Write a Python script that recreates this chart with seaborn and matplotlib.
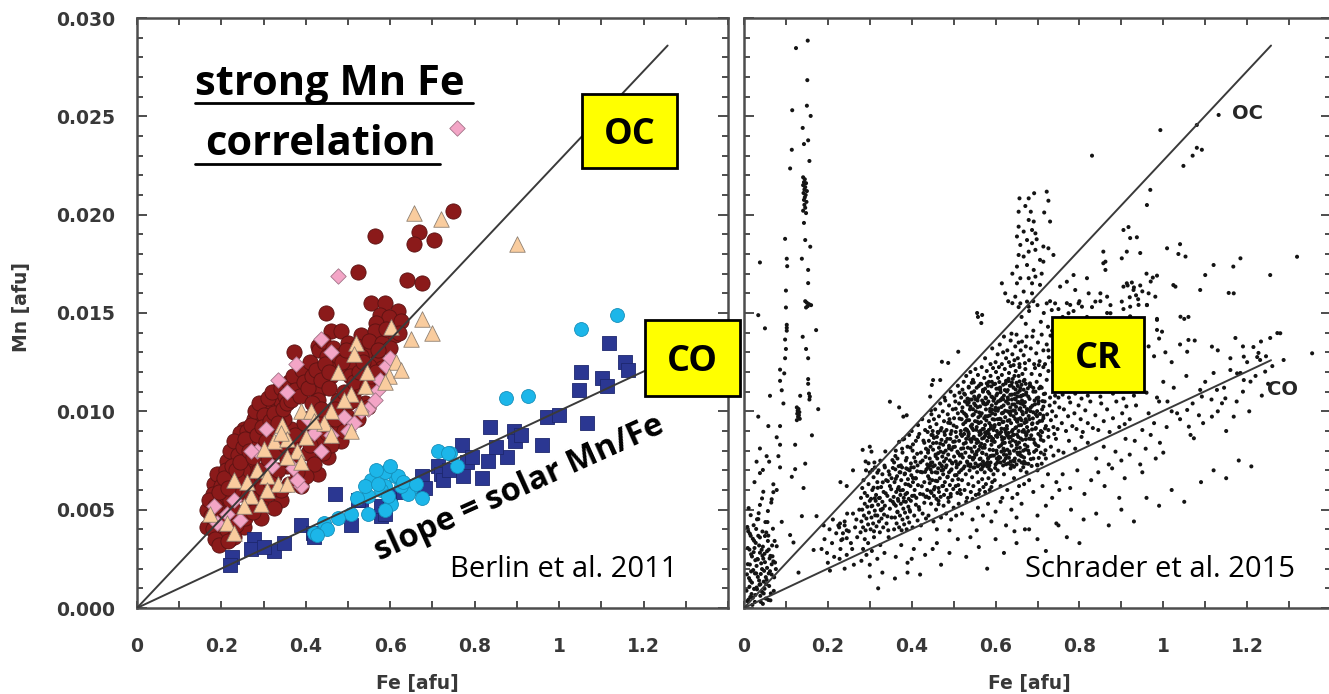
import numpy as np
import matplotlib
matplotlib.use("Agg")
import matplotlib.pyplot as plt
from matplotlib.patches import Rectangle
from matplotlib.lines import Line2D
from matplotlib.ticker import MultipleLocator
import seaborn as sns

# ------------------------------------------------------------------
# Left panel (Berlin et al. 2011): Fe and Mn in atoms per formula unit
# ------------------------------------------------------------------
oc_circles = [
    (0.749, 0.0202), (0.563, 0.0189), (0.667, 0.0191), (0.656, 0.0185), (0.704, 0.0187), (0.523, 0.0171),
    (0.640, 0.0167), (0.674, 0.0165), (0.555, 0.0155), (0.587, 0.0155), (0.618, 0.0151), (0.575, 0.0149),
    (0.598, 0.0148), (0.626, 0.0146), (0.448, 0.0150), (0.567, 0.0145), (0.460, 0.0141), (0.483, 0.0141),
    (0.428, 0.0133), (0.531, 0.0139), (0.563, 0.0141), (0.499, 0.0135), (0.547, 0.0131), (0.610, 0.0139),
    (0.372, 0.0130), (0.460, 0.0130), (0.507, 0.0128), (0.570, 0.0126), (0.364, 0.0114), (0.388, 0.0112),
    (0.428, 0.0110), (0.460, 0.0118), (0.539, 0.0118), (0.333, 0.0111), (0.428, 0.0106), (0.475, 0.0106),
    (0.499, 0.0104), (0.539, 0.0104), (0.333, 0.0104), (0.309, 0.0101), (0.285, 0.0097), (0.301, 0.0094),
    (0.253, 0.0091), (0.277, 0.0087), (0.364, 0.0091), (0.460, 0.0097), (0.499, 0.0097), (0.412, 0.0091),
    (0.475, 0.0091), (0.166, 0.0050), (0.182, 0.0063), (0.213, 0.0075), (0.221, 0.0035), (0.198, 0.0038),
    (0.166, 0.0041), (0.245, 0.0089), (0.277, 0.0096), (0.309, 0.0102), (0.340, 0.0055), (0.325, 0.0051),
    (0.293, 0.0055), (0.388, 0.0062), (0.452, 0.0077), (0.483, 0.0085), (0.523, 0.0096), (0.547, 0.0102),
    (0.428, 0.0068), (0.245, 0.0058), (0.229, 0.0050), (0.198, 0.0046), (0.190, 0.0055), (0.229, 0.0067),
    (0.261, 0.0075), (0.277, 0.0084), (0.309, 0.0090), (0.348, 0.0096), (0.372, 0.0084), (0.356, 0.0072),
    (0.325, 0.0067), (0.293, 0.0046), (0.253, 0.0041), (0.229, 0.0041), (0.182, 0.0045), (0.468, 0.0096),
    (0.436, 0.0085), (0.404, 0.0079), (0.412, 0.0097), (0.515, 0.0106), (0.180, 0.0058), (0.190, 0.0068),
    (0.200, 0.0062), (0.210, 0.0070), (0.200, 0.0052), (0.220, 0.0080), (0.230, 0.0085), (0.240, 0.0078),
    (0.250, 0.0082), (0.260, 0.0090), (0.270, 0.0093), (0.280, 0.0100), (0.290, 0.0104), (0.300, 0.0098),
    (0.310, 0.0107), (0.320, 0.0110), (0.340, 0.0112), (0.350, 0.0108), (0.360, 0.0115), (0.370, 0.0118),
    (0.390, 0.0121), (0.410, 0.0125), (0.430, 0.0131), (0.440, 0.0136), (0.450, 0.0128), (0.470, 0.0124),
    (0.490, 0.0120), (0.510, 0.0124), (0.520, 0.0133), (0.530, 0.0128), (0.550, 0.0136), (0.580, 0.0135),
    (0.590, 0.0142), (0.600, 0.0132), (0.620, 0.0140), (0.580, 0.0122), (0.560, 0.0114), (0.520, 0.0112),
    (0.500, 0.0110), (0.490, 0.0090), (0.460, 0.0083), (0.440, 0.0079), (0.420, 0.0073), (0.400, 0.0067),
    (0.380, 0.0069), (0.360, 0.0063), (0.340, 0.0060), (0.310, 0.0058), (0.300, 0.0063), (0.280, 0.0062),
    (0.270, 0.0068), (0.260, 0.0064), (0.250, 0.0070), (0.240, 0.0065), (0.230, 0.0060), (0.220, 0.0055),
    (0.210, 0.0047), (0.200, 0.0042), (0.240, 0.0045), (0.260, 0.0050), (0.270, 0.0056), (0.290, 0.0070),
    (0.310, 0.0076), (0.330, 0.0080), (0.350, 0.0083), (0.370, 0.0078), (0.390, 0.0088), (0.410, 0.0083),
    (0.430, 0.0095), (0.450, 0.0089), (0.470, 0.0101), (0.490, 0.0110), (0.530, 0.0113), (0.550, 0.0123),
    (0.570, 0.0131), (0.210, 0.0038), (0.230, 0.0036), (0.190, 0.0050), (0.170, 0.0055), (0.180, 0.0040),
    (0.175, 0.0047), (0.185, 0.0052), (0.195, 0.0059), (0.205, 0.0066), (0.215, 0.0061), (0.225, 0.0072),
    (0.235, 0.0070), (0.245, 0.0074), (0.255, 0.0086), (0.265, 0.0080), (0.275, 0.0077), (0.285, 0.0088),
    (0.295, 0.0092), (0.305, 0.0085), (0.315, 0.0095), (0.325, 0.0099), (0.335, 0.0094), (0.345, 0.0101),
    (0.355, 0.0104), (0.365, 0.0106), (0.375, 0.0111), (0.385, 0.0108), (0.395, 0.0115), (0.405, 0.0112),
    (0.415, 0.0118), (0.425, 0.0121), (0.435, 0.0116), (0.445, 0.0124), (0.455, 0.0120), (0.465, 0.0132),
    (0.475, 0.0128), (0.485, 0.0125), (0.495, 0.0131), (0.505, 0.0118), (0.515, 0.0115), (0.525, 0.0120),
    (0.535, 0.0125), (0.545, 0.0113), (0.555, 0.0118), (0.565, 0.0120), (0.185, 0.0035), (0.195, 0.0032),
    (0.215, 0.0034), (0.235, 0.0042), (0.255, 0.0046), (0.275, 0.0049), (0.295, 0.0061), (0.315, 0.0064),
    (0.335, 0.0070), (0.355, 0.0076), (0.375, 0.0088), (0.395, 0.0094), (0.415, 0.0104), (0.435, 0.0101),
    (0.455, 0.0112),
]

oc_triangles = [
    (0.656, 0.0201), (0.720, 0.0198), (0.900, 0.0185), (0.674, 0.0147), (0.698, 0.0140), (0.650, 0.0137),
    (0.602, 0.0143), (0.519, 0.0135), (0.515, 0.0129), (0.614, 0.0125), (0.598, 0.0118), (0.587, 0.0115),
    (0.475, 0.0120), (0.539, 0.0113), (0.507, 0.0109), (0.491, 0.0106), (0.531, 0.0102), (0.388, 0.0100),
    (0.412, 0.0100), (0.460, 0.0100), (0.444, 0.0094), (0.344, 0.0093), (0.507, 0.0090), (0.325, 0.0085),
    (0.356, 0.0086), (0.380, 0.0080), (0.356, 0.0077), (0.388, 0.0074), (0.285, 0.0070), (0.229, 0.0065),
    (0.309, 0.0067), (0.333, 0.0063), (0.356, 0.0063), (0.269, 0.0057), (0.293, 0.0053), (0.253, 0.0052),
    (0.174, 0.0048), (0.213, 0.0043), (0.229, 0.0038), (0.261, 0.0064), (0.309, 0.0060), (0.340, 0.0089),
    (0.300, 0.0081), (0.420, 0.0095), (0.460, 0.0088), (0.625, 0.0121), (0.545, 0.0120), (0.400, 0.0087),
]

oc_diamonds = [
    (0.757, 0.0244), (0.477, 0.0169), (0.436, 0.0137), (0.460, 0.0130), (0.376, 0.0124), (0.333, 0.0116),
    (0.356, 0.0110), (0.305, 0.0091), (0.404, 0.0096), (0.491, 0.0097), (0.460, 0.0088), (0.570, 0.0111),
    (0.575, 0.0116), (0.563, 0.0106), (0.547, 0.0101), (0.531, 0.0100), (0.590, 0.0123), (0.285, 0.0080),
    (0.229, 0.0055), (0.245, 0.0045), (0.182, 0.0052), (0.213, 0.0048), (0.436, 0.0080), (0.388, 0.0062),
    (0.515, 0.0094), (0.370, 0.0071), (0.420, 0.0089), (0.600, 0.0127), (0.500, 0.0090), (0.269, 0.0080),
    (0.320, 0.0072), (0.380, 0.0065), (0.190, 0.0043),
]

co_squares = [
    (0.225, 0.0026), (0.221, 0.0022), (0.277, 0.0035), (0.269, 0.0030), (0.325, 0.0029), (0.348, 0.0033),
    (0.388, 0.0042), (0.416, 0.0038), (0.420, 0.0036), (0.468, 0.0058), (0.507, 0.0042), (0.531, 0.0055),
    (0.523, 0.0055), (0.579, 0.0047), (0.579, 0.0052), (0.587, 0.0048), (0.642, 0.0062), (0.667, 0.0062),
    (0.674, 0.0067), (0.682, 0.0061), (0.714, 0.0072), (0.721, 0.0068), (0.725, 0.0065), (0.773, 0.0067),
    (0.781, 0.0074), (0.817, 0.0066), (0.769, 0.0083), (0.793, 0.0077), (0.832, 0.0075), (0.876, 0.0077),
    (0.837, 0.0092), (0.892, 0.0090), (0.896, 0.0085), (0.960, 0.0083), (0.971, 0.0097), (0.999, 0.0098),
    (1.067, 0.0094), (1.046, 0.0111), (1.051, 0.0120), (1.102, 0.0117), (1.114, 0.0113), (1.118, 0.0135),
    (1.156, 0.0125), (1.162, 0.0121), (0.600, 0.0057), (0.630, 0.0059), (0.740, 0.0070), (0.850, 0.0082),
    (0.910, 0.0088), (0.300, 0.0031),
]

co_circles = [
    (1.051, 0.0142), (1.138, 0.0149), (0.873, 0.0107), (0.927, 0.0108), (0.714, 0.0080), (0.742, 0.0079),
    (0.757, 0.0072), (0.674, 0.0056), (0.646, 0.0060), (0.610, 0.0067), (0.587, 0.0062), (0.587, 0.0069),
    (0.555, 0.0065), (0.618, 0.0067), (0.642, 0.0058), (0.602, 0.0053), (0.579, 0.0060), (0.547, 0.0057),
    (0.539, 0.0062), (0.507, 0.0048), (0.547, 0.0048), (0.587, 0.0050), (0.475, 0.0046), (0.444, 0.0043),
    (0.420, 0.0038), (0.451, 0.0040), (0.626, 0.0062), (0.570, 0.0063), (0.594, 0.0057), (0.737, 0.0079),
    (0.426, 0.0037), (0.565, 0.0070), (0.600, 0.0072), (0.630, 0.0064), (0.660, 0.0063), (0.520, 0.0056),
]

# ------------------------------------------------------------------
# Right panel (Schrader et al. 2015): Fe in 1e-3 afu, Mn in 1e-5 afu
# ------------------------------------------------------------------
cr_strip = [
    (152, 2885), (124, 2847), (151, 2684), (150, 2554), (115, 2531), (159, 2502), (140, 2441), (153, 2378),
    (143, 2359), (114, 2330), (156, 2273), (110, 2235), (141, 2190), (145, 2180), (143, 2165), (148, 2160),
    (141, 2150), (146, 2140), (144, 2128), (150, 2120), (142, 2110), (147, 2100), (145, 2088), (143, 2075),
    (149, 2065), (144, 2050), (146, 2035), (141, 2020), (148, 2008), (143, 1958), (98, 1877), (146, 1871),
    (158, 1837), (102, 1776), (138, 1776), (103, 1738), (38, 1757), (153, 1719), (153, 1652), (100, 1614),
    (100, 1528), (146, 1560), (150, 1552), (155, 1545), (152, 1535), (160, 1540), (148, 1528), (34, 1489),
    (50, 1422), (102, 1440), (102, 1425), (102, 1410), (172, 1413), (140, 1379), (98, 1365), (148, 1317),
    (100, 1317), (98, 1270), (153, 1270), (86, 1212), (96, 1193), (153, 1164), (86, 1155), (90, 1107),
    (153, 1140), (62, 1079), (134, 1079), (155, 1090), (157, 1075), (156, 1060), (94, 1040), (177, 1011),
    (126, 1020), (130, 1012), (128, 1003), (132, 996), (127, 988), (131, 980), (129, 972), (133, 962),
    (126, 955), (34, 973), (86, 925), (58, 925), (78, 868), (162, 878), (86, 830), (38, 811), (122, 830),
    (54, 772), (82, 772), (30, 744), (60, 744), (86, 715), (122, 706), (146, 734), (38, 686), (114, 667),
    (70, 629), (142, 610), (46, 591), (78, 600), (66, 553), (38, 524), (245, 620), (138, 467), (173, 467),
    (90, 438), (229, 430), (227, 410), (240, 420), (245, 395), (236, 380), (245, 355), (232, 345), (110, 371),
    (118, 333), (166, 295), (130, 180), (78, 314), (70, 237),
]

cr_origin = [
    (8, 412), (13, 297), (17, 186), (21, 352), (24, 97), (27, 243), (31, 451), (33, 158), (36, 318), (39, 62),
    (41, 227), (44, 389), (47, 134), (49, 276), (52, 48), (55, 204), (57, 341), (60, 112), (63, 265), (66, 170),
    (69, 403), (71, 87), (74, 231), (11, 508), (15, 139), (19, 262), (23, 421), (26, 31), (29, 176), (34, 367),
    (37, 118), (42, 296), (45, 21), (48, 189), (51, 437), (54, 143), (58, 368), (61, 252), (64, 74), (67, 318),
    (72, 156), (9, 223), (14, 378), (18, 71), (22, 193), (28, 331), (32, 249), (35, 482), (40, 173), (43, 82),
    (46, 251), (50, 366), (53, 121), (56, 437), (59, 297), (62, 187), (65, 536), (68, 263), (73, 341), (76, 198),
    (12, 152), (16, 472), (25, 305), (30, 104), (38, 281), (43, 557), (57, 493), (70, 589), (25, 640), (45, 702),
    (6, 88), (9, 305), (11, 43), (14, 221), (16, 367), (19, 129), (21, 52), (23, 284), (26, 176), (29, 402),
    (31, 95), (33, 247), (36, 140), (38, 359), (40, 31), (43, 198), (45, 312), (47, 74), (50, 233), (52, 157),
    (55, 289), (58, 41), (7, 171), (10, 390), (13, 108), (17, 273), (20, 16), (24, 342), (27, 66), (30, 214),
    (34, 452), (39, 121), (44, 266), (49, 98), (53, 384), (59, 176), (63, 39), (66, 222), (8, 35), (15, 56),
]

cr_plume = [
    (657, 2083), (679, 2083), (692, 2109), (722, 2117), (726, 2071), (671, 2044), (684, 2015), (655, 2015),
    (716, 2011), (679, 1973), (691, 1965), (730, 1965), (655, 1939), (667, 1914), (687, 1922), (695, 1905),
    (651, 1889), (675, 1871), (687, 1855), (659, 1846), (714, 1838), (726, 1829), (679, 1812), (695, 1821),
    (655, 1795), (667, 1787), (706, 1770), (714, 1761), (651, 1736), (675, 1744), (691, 1719), (695, 1685),
    (679, 1677), (659, 1677), (651, 1651), (687, 1651), (706, 1643), (615, 1651), (623, 1600), (647, 1583),
    (667, 1609), (687, 1600), (675, 1558), (659, 1549), (679, 1532), (738, 1795), (698, 1875), (640, 1700),
    (630, 1560), (710, 1700),
]

cr_outer = [
    (993, 2430), (830, 2300), (1132, 2507), (1080, 2340), (1092, 2330), (1070, 2300), (1048, 2248),
    (969, 2126), (961, 2049), (1080, 2456), (1319, 1786), (1255, 1693), (1184, 1778), (1167, 1736),
    (1120, 1744), (1100, 1693), (1088, 1617), (1156, 1602), (1040, 1850), (1036, 1800), (1053, 1787),
    (1009, 1829), (945, 1805), (913, 1812), (901, 1778), (921, 1881), (937, 1885), (905, 1922), (917, 1937),
    (857, 1812), (862, 1761), (857, 1753), (862, 1719), (960, 1700), (975, 1680), (985, 1690), (970, 1660),
    (945, 1640), (930, 1630), (925, 1655), (915, 1640), (950, 1610), (965, 1600), (935, 1590), (920, 1580),
    (940, 1570), (1024, 1642), (1060, 1480), (1050, 1470), (1060, 1363), (1057, 1303), (1172, 1373),
    (1215, 1327), (1255, 1373), (1272, 1398), (1233, 1355), (1227, 1297), (1355, 1295), (1184, 1195),
    (1243, 1202), (1208, 1151), (1224, 1276), (1120, 1195), (786, 1693), (818, 1677), (770, 1659),
    (790, 1617), (822, 1600), (754, 1634), (798, 1549), (778, 1541), (722, 1549), (742, 1549), (838, 1558),
    (850, 1600), (866, 1583), (905, 1634), (913, 1651), (929, 1617), (961, 1541), (941, 1541), (921, 1532),
    (901, 1558), (981, 1583), (1029, 1634), (1168, 1600), (734, 1515), (774, 1499), (806, 1532), (874, 1499),
    (921, 1483), (985, 1465), (1041, 1481), (985, 1414), (997, 1405), (1116, 1329), (1279, 1397), (1192, 1278),
    (1231, 1261), (1287, 1261), (1176, 1193), (1192, 1159), (1088, 1109), (1092, 1075), (1128, 1109),
    (1140, 1041), (1148, 1066), (1168, 973), (1116, 973), (1057, 1007), (1033, 990), (1061, 922), (1073, 863),
    (1000, 1150), (1010, 1050), (1025, 1120), (1040, 960), (1055, 1180), (1070, 1040), (1085, 980),
    (1100, 1150), (1115, 1060), (1130, 1000), (1145, 1120), (1160, 1210), (1175, 1050), (1190, 1100),
    (1205, 1000), (1220, 1180), (1235, 1080), (1250, 1140), (1008, 920), (1020, 1000), (1065, 880),
    (1095, 940), (1150, 900), (1200, 1250), (1260, 1230), (1245, 1280), (451, 1159), (558, 1480), (566, 1449),
    (300, 820), (260, 700), (230, 640), (556, 1500), (568, 1490), (511, 1303), (472, 1252), (487, 1246),
    (448, 1134), (444, 1075), (468, 1159), (348, 1049), (380, 973), (388, 980), (290, 745), (304, 795),
    (311, 740), (283, 804), (297, 736),
]

cr_upper = [
    (640, 1550), (655, 1530), (662, 1480), (680, 1510), (672, 1445), (690, 1560), (700, 1540), (715, 1500),
    (730, 1560), (742, 1470), (725, 1430), (708, 1455), (750, 1520), (690, 1410), (735, 1410), (760, 1480),
    (770, 1550), (786, 1510), (800, 1560), (790, 1450), (818, 1480), (810, 1420), (830, 1530), (776, 1415),
    (850, 1560), (866, 1500), (874, 1540), (905, 1520), (921, 1480), (941, 1450), (961, 1540), (985, 1470),
    (575, 1270), (588, 1240), (592, 1320), (600, 1250), (605, 1290), (610, 1340), (615, 1240), (620, 1380),
    (625, 1270), (628, 1310), (632, 1250), (636, 1360), (640, 1290), (643, 1235), (647, 1330), (650, 1390),
    (653, 1270), (657, 1240), (660, 1310), (663, 1355), (667, 1285), (670, 1245), (672, 1330), (674, 1380),
    (618, 1300), (645, 1260), (655, 1350), (638, 1395), (680, 1260), (684, 1320), (688, 1380), (692, 1240),
    (697, 1295), (701, 1350), (705, 1255), (710, 1390), (714, 1310), (718, 1240), (722, 1340), (727, 1275),
    (731, 1385), (736, 1250), (703, 1235), (726, 1310), (965, 1330), (978, 1280), (990, 1370), (1005, 1300),
    (1020, 1250), (1040, 1340), (1075, 1360), (1130, 1310), (1160, 1270), (1190, 1330),
    (478, 1070), (493, 1100), (502, 1080), (510, 1130), (514, 1095), (518, 1070), (521, 1110), (524, 1150),
    (527, 1085), (530, 1180), (533, 1065), (536, 1125), (540, 1200), (543, 1095), (546, 1160), (549, 1075),
    (552, 1215), (555, 1120), (558, 1185), (561, 1080), (564, 1140), (567, 1225), (570, 1100), (573, 1170),
    (576, 1070), (579, 1205), (582, 1130), (585, 1090), (588, 1180), (591, 1150), (594, 1220), (538, 1060),
    (575, 1115), (590, 1075), (597, 1065), (599, 1140), (601, 1200), (604, 1090), (606, 1170), (608, 1225),
    (611, 1110), (613, 1060), (615, 1185), (618, 1135), (620, 1080), (622, 1215), (625, 1155), (627, 1100),
    (629, 1070), (632, 1195), (634, 1130), (636, 1230), (639, 1085), (641, 1165), (643, 1120), (646, 1065),
    (648, 1205), (650, 1145), (653, 1095), (655, 1180), (657, 1225), (660, 1075), (662, 1135), (664, 1190),
    (667, 1110), (669, 1160), (671, 1215), (673, 1085), (602, 1115), (631, 1165), (645, 1180), (658, 1105),
    (672, 1140), (678, 1075), (682, 1130), (686, 1190), (690, 1100), (694, 1220), (698, 1150), (702, 1070),
    (706, 1185), (710, 1120), (714, 1225), (718, 1090), (722, 1160), (726, 1205), (730, 1070), (742, 1080),
    (750, 1070), (760, 1085), (775, 1070), (790, 1090), (805, 1065), (820, 1080), (850, 1075), (880, 1090),
    (905, 1065), (930, 1080), (960, 1095), (985, 1070),
]

cr_middle = [
    (400, 900), (415, 930), (425, 960), (432, 905), (370, 1020), (438, 895), (441, 950), (444, 920), (447, 985),
    (450, 900), (453, 960), (456, 1010), (459, 935), (462, 895), (465, 975), (468, 1040), (471, 915), (474, 1000),
    (477, 950), (480, 1055), (483, 905), (486, 985), (489, 1030), (492, 940), (495, 900), (498, 1010), (501, 965),
    (504, 1050), (507, 920), (510, 990), (513, 1040), (446, 1005), (490, 960), (505, 895), (517, 900), (519, 960),
    (521, 1020), (523, 935), (525, 990), (527, 1050), (529, 910), (531, 975), (533, 1035), (535, 895), (537, 955),
    (539, 1010), (541, 925), (543, 1060), (545, 980), (547, 905), (549, 1040), (551, 950), (553, 1000), (555, 920),
    (557, 1055), (559, 970), (561, 895), (563, 1025), (565, 945), (567, 990), (569, 910), (571, 1045), (573, 965),
    (575, 930), (577, 1010), (579, 895), (581, 975), (583, 1050), (585, 940), (587, 1000), (589, 915), (591, 1030),
    (593, 960), (595, 905), (520, 1000), (528, 945), (536, 1045), (544, 915), (552, 1030), (560, 940), (568, 1055),
    (576, 975), (584, 905), (592, 990), (532, 905), (548, 985), (564, 900), (580, 1040), (556, 1060), (597, 920),
    (599, 985), (601, 1040), (603, 900), (605, 960), (607, 1015), (609, 935), (611, 1055), (613, 895), (615, 990),
    (617, 945), (619, 1030), (621, 910), (623, 970), (625, 1050), (627, 925), (629, 1000), (631, 890), (633, 955),
    (635, 1020), (637, 940), (639, 1060), (641, 905), (643, 975), (645, 1035), (647, 915), (649, 990), (651, 950),
    (653, 1045), (655, 900), (657, 1010), (659, 965), (661, 930), (663, 1055), (665, 985), (667, 905), (669, 1025),
    (671, 945), (673, 995), (675, 920), (600, 1005), (612, 960), (624, 895), (636, 1000), (648, 1060), (660, 1040),
    (672, 960), (606, 1050), (630, 1040), (654, 960), (678, 900), (681, 960), (684, 1020), (687, 935), (690, 995),
    (693, 1055), (696, 915), (699, 975), (702, 1040), (705, 950), (708, 900), (711, 1010), (714, 965), (717, 1050),
    (720, 925), (723, 985), (726, 905), (729, 1030), (732, 955), (735, 1000), (738, 920), (741, 1045), (744, 975),
    (748, 910), (752, 1020), (758, 940), (763, 1010), (768, 900), (773, 975), (778, 1045), (783, 925), (788, 990),
    (793, 910), (798, 1030), (803, 960), (808, 895), (814, 1005), (820, 940), (826, 1050), (832, 915), (838, 980),
    (845, 905), (852, 1040), (858, 950), (866, 1010), (872, 895), (880, 965), (888, 1050), (895, 920), (902, 990),
    (908, 935), (912, 1025), (920, 960), (935, 1030), (950, 905), (965, 990), (978, 940), (990, 1050),
    (358, 740), (362, 800), (366, 760), (370, 845), (374, 725), (378, 790), (382, 860), (386, 750), (390, 820),
    (394, 880), (398, 735), (402, 800), (406, 765), (410, 850), (414, 725), (418, 885), (422, 790), (426, 750),
    (430, 840), (434, 810), (437, 730), (439, 790), (441, 850), (443, 760), (445, 820), (447, 880), (449, 740),
    (451, 805), (453, 865), (455, 725), (457, 780), (459, 840), (461, 760), (463, 890), (465, 815), (467, 735),
    (469, 795), (471, 855), (473, 770), (475, 830), (477, 745), (479, 880), (481, 800), (483, 725), (485, 860),
    (487, 780), (489, 825), (491, 750), (493, 885), (495, 805), (497, 735), (499, 845), (501, 770), (503, 820),
    (505, 745), (507, 870), (509, 795), (511, 730), (513, 850), (515, 775), (444, 725), (460, 870), (476, 790),
    (492, 860), (508, 730), (516, 740), (518, 810), (520, 875), (522, 765), (524, 835), (526, 720), (528, 790),
    (530, 860), (532, 745), (534, 815), (536, 885), (538, 770), (540, 730), (542, 845), (544, 795), (546, 755),
    (548, 870), (550, 820), (552, 735), (554, 780), (556, 855), (558, 725), (560, 805), (562, 880), (564, 760),
    (566, 835), (568, 790), (570, 745), (572, 865), (574, 815), (576, 730), (578, 780), (580, 850), (582, 760),
    (584, 885), (586, 805), (588, 740), (590, 830), (592, 775), (594, 860), (525, 885), (535, 725), (545, 860),
    (555, 795), (565, 730), (575, 875), (585, 725), (519, 780), (529, 840), (549, 765), (559, 845), (569, 815),
    (579, 735), (589, 870), (541, 810), (596, 775), (598, 845), (600, 730), (602, 800), (604, 870), (606, 755),
    (608, 820), (610, 885), (612, 740), (614, 795), (616, 855), (618, 725), (620, 780), (622, 840), (624, 760),
    (626, 885), (628, 805), (630, 735), (632, 865), (634, 785), (636, 745), (638, 825), (640, 725), (642, 880),
    (644, 800), (646, 760), (648, 845), (650, 730), (652, 790), (654, 870), (656, 750), (658, 815), (660, 775),
    (662, 740), (664, 855), (666, 800), (668, 765), (670, 830), (672, 735), (674, 885), (603, 760), (619, 810),
    (635, 870), (651, 830), (667, 735), (678, 800), (684, 860), (690, 760), (696, 830), (702, 885), (708, 790),
    (714, 850), (720, 760), (726, 870), (732, 820), (738, 775), (744, 860), (750, 800), (700, 725), (740, 885),
    (762, 790), (775, 850), (790, 810), (805, 870), (820, 840), (840, 760), (858, 820), (870, 730), (886, 795),
    (900, 750), (910, 860), (920, 780), (932, 850), (945, 730), (958, 810), (970, 880), (982, 760), (992, 840),
    (1000, 790),
]

cr_core = [
    (523, 812), (531, 1047), (538, 768), (544, 933), (549, 1102), (553, 857), (558, 721), (561, 994), (566, 1138),
    (569, 788), (572, 911), (577, 1066), (581, 742), (584, 869), (587, 1013), (590, 1127), (594, 803), (597, 958),
    (599, 712), (602, 1081), (606, 887), (609, 1149), (611, 764), (614, 1022), (617, 838), (619, 947), (622, 1108),
    (625, 731), (628, 876), (630, 1059), (633, 796), (636, 982), (638, 1131), (641, 853), (644, 718), (646, 1004),
    (649, 919), (652, 1075), (654, 781), (657, 1152), (660, 862), (662, 955), (665, 1037), (668, 744), (670, 893),
    (673, 1096), (676, 821), (679, 976), (681, 1063), (684, 757), (687, 908), (690, 1119), (693, 839), (696, 985),
    (699, 728), (703, 1052), (707, 874), (711, 952), (715, 1088), (719, 802), (527, 906), (533, 739), (536, 1121),
    (541, 857), (546, 1011), (551, 781), (556, 948), (559, 1073), (563, 823), (567, 706), (571, 1039), (575, 892),
    (579, 1142), (583, 764), (586, 979), (591, 851), (595, 1054), (598, 930), (603, 786), (607, 1116), (610, 962),
    (613, 827), (616, 1068), (620, 747), (623, 1003), (627, 911), (631, 1154), (634, 843), (637, 726), (640, 1035),
    (643, 881), (647, 961), (650, 812), (653, 1129), (656, 929), (659, 1016), (663, 771), (666, 1083), (669, 941),
    (672, 858), (675, 1011), (678, 733), (682, 1142), (685, 878), (688, 1029), (692, 794), (695, 911), (698, 1066),
    (702, 823), (706, 987), (710, 734), (714, 1024), (718, 913), (529, 983), (535, 874), (540, 1024), (545, 763),
    (548, 1147), (554, 906), (557, 1021), (562, 757), (565, 886), (570, 1109), (574, 829), (578, 954), (582, 1099),
    (585, 707), (589, 927), (593, 1071), (596, 846), (600, 1018), (604, 739), (608, 936), (612, 1097), (615, 869),
    (618, 993), (621, 799), (624, 1142), (629, 952), (632, 764), (635, 1084), (639, 897), (642, 1004), (645, 746),
    (648, 1111), (651, 882), (655, 1047), (658, 791), (661, 1079), (664, 897), (667, 1154), (671, 806), (674, 947),
    (677, 1117), (680, 861), (683, 1001), (686, 722), (689, 964), (694, 1036), (697, 803), (700, 941), (704, 1117),
    (708, 856), (712, 1052), (716, 781), (525, 1090), (532, 955), (539, 857), (543, 1145), (547, 714), (552, 1062),
    (555, 839), (560, 1129), (564, 978), (568, 862), (573, 731), (576, 1035), (580, 889), (584, 1150), (588, 773),
    (592, 1008), (596, 1138), (601, 876), (605, 1003), (608, 768), (611, 1121), (614, 912), (618, 1061), (621, 864),
    (626, 777), (629, 1108), (633, 992), (636, 869), (639, 1147), (642, 749), (646, 1088), (649, 1023), (652, 947),
    (656, 841), (659, 1118), (663, 999), (666, 716), (670, 1047), (673, 878), (677, 1009), (680, 786), (684, 1128),
    (688, 939), (691, 857), (695, 1100), (699, 1001), (703, 763), (707, 1125), (711, 894), (714, 978),
    (304, 517), (309, 612), (313, 471), (318, 688), (322, 559), (327, 497), (331, 639), (335, 724), (338, 583),
    (342, 466), (347, 678), (351, 604), (354, 752), (358, 529), (362, 657), (366, 487), (369, 721), (373, 598),
    (377, 810), (381, 542), (384, 684), (388, 763), (392, 627), (395, 498), (399, 715), (403, 832), (406, 571),
    (410, 659), (413, 784), (417, 513), (421, 741), (424, 619), (428, 851), (432, 692), (435, 567), (439, 802),
    (442, 657), (446, 739), (450, 879), (453, 603), (457, 772), (461, 688), (464, 528), (468, 836), (471, 725),
    (475, 621), (478, 894), (482, 759), (486, 668), (489, 812), (493, 567), (496, 739), (500, 928), (503, 847),
    (507, 676), (511, 787), (514, 963), (518, 701), (306, 702), (312, 558), (319, 611), (325, 749), (331, 505),
    (337, 796), (343, 645), (349, 548), (355, 712), (361, 773), (367, 605), (373, 690), (379, 857), (385, 578),
    (391, 705), (397, 816), (403, 661), (409, 744), (415, 869), (421, 692), (427, 577), (433, 768), (439, 715),
    (445, 593), (451, 838), (457, 647), (463, 787), (469, 903), (475, 702), (481, 845), (487, 942), (493, 699),
    (499, 818), (505, 1013), (511, 625), (517, 884),
]

cr_lower = [
    (279, 560), (282, 610), (285, 650), (288, 585), (291, 700), (294, 570), (297, 630), (300, 690), (303, 555),
    (306, 600), (309, 665), (312, 715), (315, 575), (318, 640), (321, 700), (324, 560), (327, 615), (330, 680),
    (333, 590), (336, 715), (339, 650), (342, 570), (345, 695), (348, 620), (352, 660), (357, 565), (359, 640),
    (361, 705), (363, 590), (365, 670), (367, 555), (369, 615), (371, 690), (373, 575), (375, 650), (377, 715),
    (379, 600), (381, 560), (383, 680), (385, 630), (387, 710), (389, 585), (391, 655), (393, 555), (395, 700),
    (397, 620), (399, 675), (401, 570), (403, 640), (405, 715), (407, 600), (409, 660), (411, 560), (413, 695),
    (415, 625), (420, 580), (425, 690), (430, 640), (433, 565), (435, 705), (437, 600), (439, 670), (441, 560),
    (443, 635), (445, 705), (447, 585), (449, 650), (451, 720), (453, 570), (455, 615), (457, 690), (459, 555),
    (461, 645), (463, 710), (465, 590), (467, 660), (469, 565), (471, 700), (473, 620), (475, 680), (477, 575),
    (479, 640), (481, 715), (483, 600), (485, 665), (487, 560), (489, 690), (491, 625), (493, 580), (495, 705),
    (497, 650), (499, 605), (503, 675), (505, 620), (507, 715), (509, 585), (511, 655), (513, 690), (515, 600),
    (448, 690), (464, 610), (472, 720), (517, 580), (520, 650), (523, 710), (526, 600), (529, 680), (532, 560),
    (535, 630), (538, 700), (541, 590), (544, 665), (547, 620), (550, 715), (553, 575), (556, 690), (559, 640),
    (562, 600), (565, 705), (568, 655), (571, 615), (574, 690), (577, 630), (580, 720), (583, 660), (586, 600),
    (589, 700), (592, 640), (595, 680), (545, 555), (560, 580), (575, 590), (590, 615), (540, 720), (570, 720),
    (598, 650), (605, 700), (612, 620), (620, 680), (628, 600), (636, 710), (644, 660), (652, 580), (660, 700),
    (668, 630), (674, 690), (616, 560), (640, 560), (656, 620), (680, 650), (690, 590), (700, 700), (712, 620),
    (725, 680), (735, 560), (745, 640), (752, 600), (760, 680), (778, 610), (795, 700), (812, 580), (828, 650),
    (845, 690), (860, 620), (878, 710), (895, 560), (908, 660), (950, 690),
    (278, 385), (280, 440), (282, 500), (284, 410), (286, 470), (288, 530), (290, 395), (292, 455), (294, 515),
    (296, 425), (298, 485), (300, 545), (302, 400), (304, 460), (306, 520), (308, 430), (310, 390), (312, 495),
    (314, 545), (316, 415), (318, 470), (320, 525), (322, 440), (324, 385), (326, 500), (328, 455), (330, 540),
    (332, 410), (334, 475), (336, 520), (340, 430), (344, 395), (348, 505), (352, 460), (355, 540), (358, 400),
    (360, 460), (362, 520), (364, 430), (366, 490), (368, 545), (370, 410), (372, 470), (374, 530), (376, 395),
    (378, 450), (380, 505), (382, 425), (384, 485), (386, 540), (388, 400), (390, 460), (392, 515), (394, 435),
    (396, 490), (398, 545), (402, 410), (406, 470), (410, 525), (414, 445), (418, 500), (422, 420), (426, 480),
    (430, 535), (434, 455), (440, 470), (446, 530), (452, 440), (458, 500), (464, 545), (470, 460), (476, 520),
    (482, 480), (488, 540), (494, 450), (500, 510), (506, 470), (512, 530), (460, 400), (490, 395), (520, 480),
    (530, 540), (545, 450), (558, 510), (570, 470), (582, 530), (590, 440), (555, 395), (600, 490), (612, 540),
    (625, 420), (638, 500), (650, 460), (662, 530), (670, 400), (645, 390), (700, 470), (720, 520), (745, 430),
    (780, 500), (810, 450), (280, 240), (284, 300), (288, 350), (292, 270), (296, 330), (300, 220), (305, 290),
    (310, 360), (318, 250), (325, 320), (335, 280), (345, 360), (362, 260), (375, 320), (390, 230), (405, 300),
    (420, 350), (432, 270), (460, 330), (490, 280), (540, 360), (300, 160), (320, 100), (390, 180),
    (185, 300), (192, 350), (198, 280), (204, 400), (210, 330), (215, 260), (220, 380), (225, 420), (230, 300),
    (235, 350), (240, 440), (245, 270), (250, 390), (255, 330), (260, 480), (265, 410), (270, 360), (275, 500),
    (200, 230), (212, 450), (228, 250), (246, 480), (258, 300), (268, 450), (205, 190), (240, 200), (262, 220),
    (190, 420), (330, 180), (360, 150), (400, 250), (420, 170), (450, 300), (470, 220), (510, 350), (530, 260),
    (560, 310), (580, 200), (600, 350), (620, 280), (650, 330), (680, 400), (700, 350), (720, 290), (750, 420),
    (770, 360), (800, 330), (840, 480), (870, 420), (900, 500), (930, 440), (960, 560), (990, 520), (1020, 600),
    (1050, 540), (1090, 640), (1120, 700), (1150, 660), (1180, 750), (1210, 720),
]

# Reference lines (OC and CO Mn/Fe ratios) and axis ticks
line_fe = [0.0, 1.257]
oc_line_mn = [0.0, 0.0286]
co_line_mn = [0.0, 0.0126]

x_ticks = [0.0, 0.2, 0.4, 0.6, 0.8, 1.0, 1.2]
x_tick_labels = ["0", "0.2", "0.4", "0.6", "0.8", "1", "1.2"]
y_ticks = [0.000, 0.005, 0.010, 0.015, 0.020, 0.025, 0.030]
y_tick_labels = ["0.000", "0.005", "0.010", "0.015", "0.020", "0.025", "0.030"]

# ------------------------------------------------------------------
sns.set_style("ticks")
plt.rcParams["font.family"] = ["DejaVu Sans"]

AXIS_GREY = "#4d4d4d"
LABEL_GREY = "#383838"
ANN_FONT = "Open Sans"

fig = plt.figure(figsize=(13.29, 6.94), dpi=100)
W, H = 1329.0, 694.0
ax1 = fig.add_axes([137 / W, 86 / H, 591 / W, 590 / H])
ax2 = fig.add_axes([744 / W, 86 / H, 587 / W, 590 / H])


def unzip(points, fx=1.0, fy=1.0):
    arr = np.asarray(points, dtype=float)
    return arr[:, 0] * fx, arr[:, 1] * fy


def style_axes(ax, show_ylabels):
    ax.set_xlim(0, 1.4)
    ax.set_ylim(0, 0.030)
    for sp in ax.spines.values():
        sp.set_visible(True)
        sp.set_color(AXIS_GREY)
        sp.set_linewidth(1.8)
    ax.set_xticks(x_ticks)
    ax.set_xticklabels(x_tick_labels)
    ax.xaxis.set_minor_locator(MultipleLocator(0.1))
    ax.set_yticks(y_ticks)
    ax.set_yticklabels(y_tick_labels)
    ax.yaxis.set_minor_locator(MultipleLocator(0.001))
    ax.tick_params(axis="both", which="both", direction="in", top=True, right=True,
                   color=AXIS_GREY, width=1.4, labelcolor=LABEL_GREY, labelsize=13.5)
    ax.tick_params(axis="x", which="both", length=5, pad=21)
    ax.tick_params(axis="y", which="major", length=7, pad=15.5)
    ax.tick_params(axis="y", which="minor", length=4.5)
    for lbl in ax.get_xticklabels() + ax.get_yticklabels():
        lbl.set_fontweight("bold")
    if not show_ylabels:
        ax.tick_params(axis="y", which="both", labelleft=False)
    ax.set_xlabel("Fe [afu]", fontsize=13.5, fontweight="bold", color=LABEL_GREY)
    ax.set_ylabel("")
    ax.grid(False)


# ---- left panel ----
fe, mn = unzip(oc_circles)
sns.scatterplot(x=fe, y=mn, ax=ax1, marker="o", s=120, color="#8b1a1a",
                edgecolor="#5a1212", linewidth=0.6, zorder=2)
fe, mn = unzip(oc_diamonds)
sns.scatterplot(x=fe, y=mn, ax=ax1, marker="D", s=62, color="#f3a5c6",
                edgecolor="#a27488", linewidth=0.6, zorder=2)
fe, mn = unzip(oc_triangles)
sns.scatterplot(x=fe, y=mn, ax=ax1, marker="^", s=125, color="#f9cc9e",
                edgecolor="#8f8072", linewidth=0.6, zorder=2)
fe, mn = unzip(co_squares)
sns.scatterplot(x=fe, y=mn, ax=ax1, marker="s", s=100, color="#2b3792",
                edgecolor="#1d276e", linewidth=0.6, zorder=2)
fe, mn = unzip(co_circles)
sns.scatterplot(x=fe, y=mn, ax=ax1, marker="o", s=100, color="#1cb6e9",
                edgecolor="#168fba", linewidth=0.6, zorder=2)

for ax in (ax1, ax2):
    sns.lineplot(x=line_fe, y=oc_line_mn, ax=ax, color="#3a3a3a", lw=1.4,
                 estimator=None, sort=False, zorder=3)
    sns.lineplot(x=line_fe, y=co_line_mn, ax=ax, color="#3a3a3a", lw=1.4,
                 estimator=None, sort=False, zorder=3)

# ---- right panel ----
for group in (cr_strip, cr_origin, cr_plume, cr_outer, cr_upper, cr_middle, cr_core, cr_lower):
    fe, mn = unzip(group, 1e-3, 1e-5)
    sns.scatterplot(x=fe, y=mn, ax=ax2, marker="o", s=8.5, color="#141414",
                    edgecolor="none", linewidth=0, zorder=2)

style_axes(ax1, True)
style_axes(ax2, False)
ax1.xaxis.set_label_coords(0.475, -0.112)
ax2.xaxis.set_label_coords(0.487, -0.112)
ax1.set_ylabel("Mn [afu]", fontsize=13.5, fontweight="bold", color=LABEL_GREY)
ax1.yaxis.set_label_coords(-0.18, 0.51)

# ---- annotations, left panel ----
ax1.text(0.098, 0.8695, "strong Mn Fe", transform=ax1.transAxes, ha="left", va="baseline",
         fontsize=30, fontweight="bold", family=ANN_FONT, color="black", zorder=6)
ax1.text(0.115, 0.768, "correlation", transform=ax1.transAxes, ha="left", va="baseline",
         fontsize=30, fontweight="bold", family=ANN_FONT, color="black", zorder=6)
ax1.add_line(Line2D([0.098, 0.5685], [0.856, 0.856], transform=ax1.transAxes,
                    color="black", lw=2.0, zorder=6))
ax1.add_line(Line2D([0.098, 0.5127], [0.7525, 0.7525], transform=ax1.transAxes,
                    color="black", lw=2.0, zorder=6))

ax1.add_patch(Rectangle((0.753, 0.7458), 0.161, 0.1254, transform=ax1.transAxes,
                        facecolor="#ffff00", edgecolor="black", lw=2.0, zorder=7, clip_on=False))
ax1.text(0.8333, 0.7864, "OC", transform=ax1.transAxes, ha="center", va="baseline",
         fontsize=26, fontweight="bold", family=ANN_FONT, color="black", zorder=8)
ax1.add_patch(Rectangle((0.8596, 0.3593), 0.1607, 0.1288, transform=ax1.transAxes,
                        facecolor="#ffff00", edgecolor="black", lw=2.0, zorder=7, clip_on=False))
ax1.text(0.9399, 0.4017, "CO", transform=ax1.transAxes, ha="center", va="baseline",
         fontsize=26, fontweight="bold", family=ANN_FONT, color="black", zorder=8, clip_on=False)

ax1.text(0.6523, 0.1898, "slope = solar Mn/Fe", transform=ax1.transAxes, ha="center",
         va="baseline", rotation=24.3, rotation_mode="anchor", fontsize=23.5,
         fontweight="bold", family=ANN_FONT, color="black", zorder=6)
ax1.text(0.5296, 0.0525, "Berlin et al. 2011", transform=ax1.transAxes, ha="left",
         va="baseline", fontsize=21, family=ANN_FONT, color="black", zorder=6)

# ---- annotations, right panel ----
ax2.add_patch(Rectangle((0.5247, 0.3661), 0.1567, 0.1271, transform=ax2.transAxes,
                        facecolor="#ffff00", edgecolor="black", lw=2.0, zorder=7))
ax2.text(0.603, 0.4076, "CR", transform=ax2.transAxes, ha="center", va="baseline",
         fontsize=26, fontweight="bold", family=ANN_FONT, color="black", zorder=8)
ax2.text(0.4787, 0.0525, "Schrader et al. 2015", transform=ax2.transAxes, ha="left",
         va="baseline", fontsize=21, family=ANN_FONT, color="black", zorder=6)
ax2.text(0.8586, 0.8288, "OC", transform=ax2.transAxes, ha="center", va="baseline",
         fontsize=14, fontweight="bold", color="#262626", zorder=6)
ax2.text(0.9182, 0.361, "CO", transform=ax2.transAxes, ha="center", va="baseline",
         fontsize=14, fontweight="bold", color="#262626", zorder=6)

fig.savefig("out.png", dpi=100, facecolor="white")
